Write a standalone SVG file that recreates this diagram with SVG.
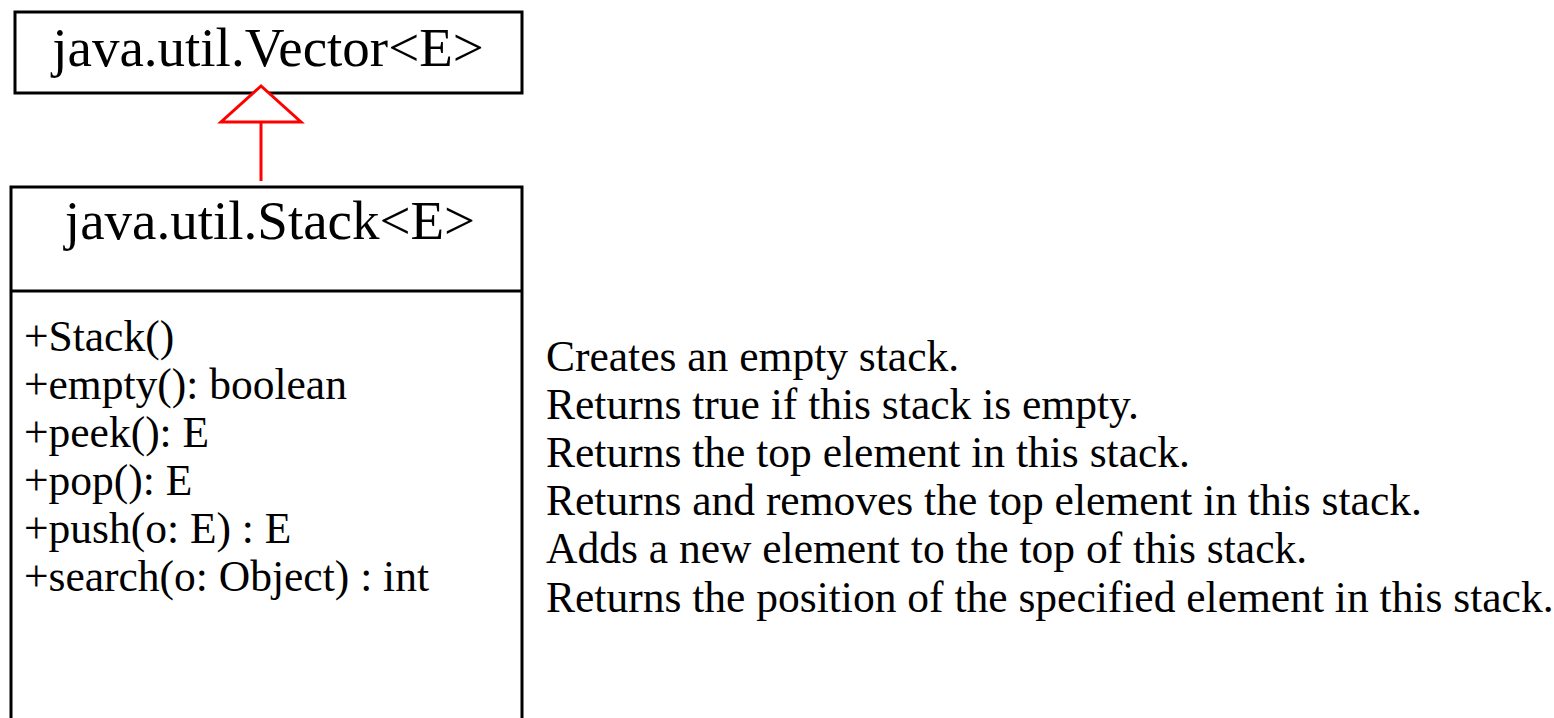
<svg xmlns="http://www.w3.org/2000/svg" width="1554" height="718" viewBox="0 0 1554 718">
<style>
.box{fill:#fff;stroke:#000;stroke-width:3}
.title{font-family:"Liberation Serif","Times New Roman",serif;font-size:55px;fill:#000;text-anchor:middle}
.mem{font-family:"Liberation Serif","Times New Roman",serif;font-size:43.5px;fill:#000}
.conn{stroke:#f00;stroke-width:3;fill:#fff}
</style>
<rect width="1554" height="718" fill="#fff"/>
<g id="vector">
<rect class="box" x="15" y="12" width="507" height="81"/>
<text class="title" x="268" y="66">java.util.Vector&lt;E&gt;</text>
</g>
<g id="stack">
<rect class="box" x="11" y="187" width="511" height="545"/>
<line x1="11" y1="291" x2="522" y2="291" stroke="#000" stroke-width="3"/>
<text class="title" x="270" y="239">java.util.Stack&lt;E&gt;</text>
<text class="mem" x="24" y="351">+Stack()</text>
<text class="mem" x="24" y="399">+empty(): boolean</text>
<text class="mem" x="24" y="447">+peek(): E</text>
<text class="mem" x="24" y="495">+pop(): E</text>
<text class="mem" x="24" y="543">+push(o: E) : E</text>
<text class="mem" x="24" y="591">+search(o: Object) : int</text>
</g>
<g id="descriptions">
<text class="mem" x="546" y="371">Creates an empty stack.</text>
<text class="mem" x="546" y="419">Returns true if this stack is empty.</text>
<text class="mem" x="546" y="467">Returns the top element in this stack.</text>
<text class="mem" x="546" y="515">Returns and removes the top element in this stack.</text>
<text class="mem" x="546" y="563">Adds a new element to the top of this stack.</text>
<text class="mem" x="546" y="612">Returns the position of the specified element in this stack.</text>
</g>
<g id="connectors">
<line class="conn" x1="261" y1="181" x2="261" y2="122"/>
<polygon class="conn" points="261,86 221,122 301,122"/>
</g>
</svg>
